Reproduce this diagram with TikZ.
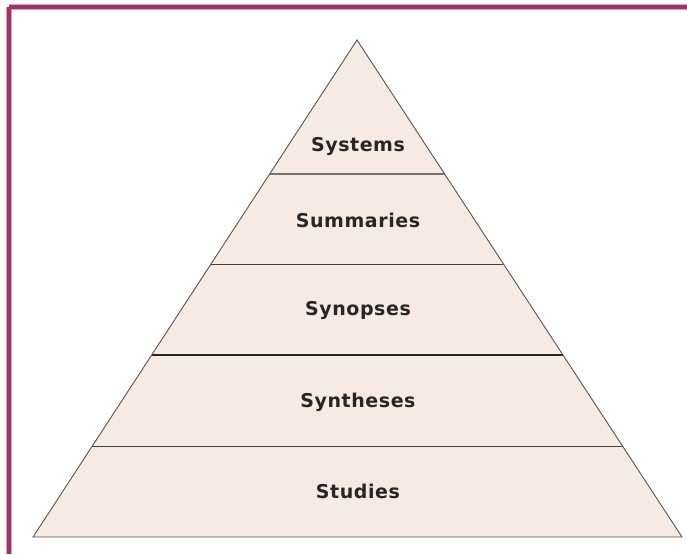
\documentclass[tikz,border=0pt]{standalone}
\usepackage{fontspec}
\newfontfamily\levelfont[LetterSpace=3]{DejaVu Sans}
\usepackage{tikz}
\usetikzlibrary{calc}
\definecolor{framepurple}{HTML}{9C3465}
\definecolor{framepink}{HTML}{DCA0BE}
\definecolor{layerfill}{HTML}{F6EAE2}
\definecolor{edgegray}{HTML}{555555}
\tikzstyle{level} = [font=\levelfont\bfseries\fontsize{19}{22}\selectfont,text=black!85,anchor=base,inner sep=0pt]
\tikzstyle{divider} = [line width=1pt,draw=black!75]

\begin{document}
\begin{tikzpicture}[x=1pt,y=-1pt]
\useasboundingbox (0,0) rectangle (687,554);
\draw[framepink,line width=5.5pt] (9,7) -- (687,7);
\draw[framepink,line width=5.5pt] (9,7) -- (9,554);
\draw[framepurple,line width=3.5pt] (9,7) -- (687,7);
\draw[framepurple,line width=3.5pt] (9,7) -- (9,554);
\coordinate (apex) at (357,40);
\coordinate (bl) at (33,537);
\coordinate (br) at (682,537);
\fill[layerfill] (apex) -- (bl) -- (br) -- cycle;
\draw[line width=1.8pt,draw=black!55] ($(apex)!0.2696!(bl)$) -- ($(apex)!0.2696!(br)$);
\draw[divider] ($(apex)!0.4507!(bl)$) -- ($(apex)!0.4507!(br)$);
\draw[divider,line width=1.8pt,draw=black!85] ($(apex)!0.6338!(bl)$) -- ($(apex)!0.6338!(br)$);
\draw[divider] ($(apex)!0.8189!(bl)$) -- ($(apex)!0.8189!(br)$);
\draw[edgegray,line width=0.9pt,line join=miter] (apex) -- (bl) -- (br) -- cycle;
\node[level] (systems) at (358,151) {Systems};
\node[level] (summaries) at (358,227) {Summaries};
\node[level] (synopses) at (358,315) {Synopses};
\node[level] (syntheses) at (358,407) {Syntheses};
\node[level] (studies) at (358,498) {Studies};
\end{tikzpicture}
\end{document}
